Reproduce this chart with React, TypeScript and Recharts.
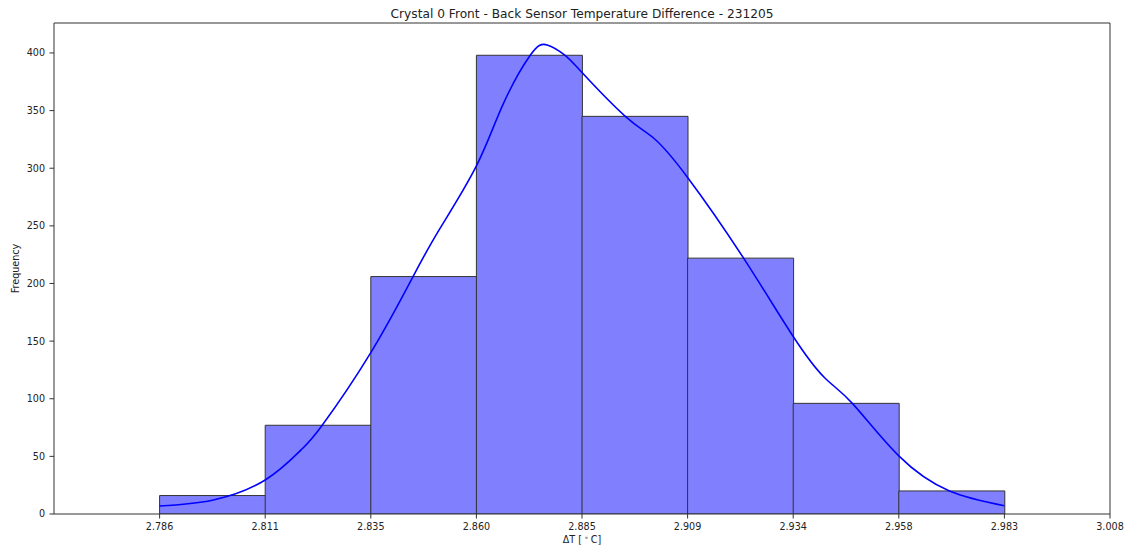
import React from 'react';
import { ComposedChart, Bar, Line, XAxis, YAxis } from 'recharts';

const binCounts = [16, 77, 206, 398, 345, 222, 96, 20];
const tickLabels = ['2.786', '2.811', '2.835', '2.860', '2.885', '2.909', '2.934', '2.958', '2.983', '3.008'];
const yTicks = [0, 50, 100, 150, 200, 250, 300, 350, 400];
// KDE curve, x in bin-edge index units (0 = 2.786, 8 = 2.983)
const kdeX = [0, 0.5, 1, 1.34, 1.54, 2, 2.4, 2.65, 3, 3.25, 3.51, 3.67, 3.84, 4, 4.41, 4.68, 5, 5.53, 6, 6.3, 6.56, 7, 7.48, 8];
const kdeY = [7, 12, 29.5, 55.6, 77, 140, 206, 247, 302, 355, 398, 407, 398, 383, 345, 326, 292, 222, 154, 118, 96, 50.4, 20, 7.2];

const binData = [
  { bin: 'b-1', count: null as number | null },
  ...binCounts.map((c, i) => ({ bin: 'b' + i, count: c as number | null })),
  { bin: 'b8', count: null as number | null },
];
const kdeData = kdeX.map((x, i) => ({ i: x, v: kdeY[i] }));

const FONT = 'DejaVu Sans, sans-serif';
const TXT = '#222';
const AX = '#333';

export default function App() {
  return (
    <div style={{ position: 'absolute', left: 0, top: 0, background: '#fff' }}>
      <ComposedChart
        width={1124}
        height={548}
        data={binData}
        margin={{ top: 0, right: 0, left: 0, bottom: 0 }}
        barCategoryGap={0}
        barGap={0}
      >
        <XAxis
          xAxisId="bins"
          dataKey="bin"
          type="category"
          orientation="top"
          height={23}
          tick={false}
          tickLine={false}
          axisLine={{ stroke: AX, strokeWidth: 1 }}
          label={{
            content: (props: any) => {
              const vb = props.viewBox || {};
              return (
                <text x={vb.x + vb.width / 2} y={18} textAnchor="middle" fontFamily={FONT} fontSize={12.2} fill={TXT}>
                  Crystal 0 Front - Back Sensor Temperature Difference - 231205
                </text>
              );
            },
          }}
        />
        <XAxis
          xAxisId="num"
          dataKey="i"
          type="number"
          domain={[-1, 9]}
          allowDataOverflow
          ticks={[0, 1, 2, 3, 4, 5, 6, 7, 8, 9]}
          tickFormatter={(v: number) => tickLabels[v] ?? ''}
          height={34}
          tickSize={4.5}
          tickMargin={4.5}
          tick={{ fontSize: 9.6, fill: TXT, fontFamily: FONT }}
          tickLine={{ stroke: AX }}
          axisLine={{ stroke: AX, strokeWidth: 1 }}
          label={{
            content: (props: any) => {
              const vb = props.viewBox || {};
              return (
                <text x={vb.x + vb.width / 2} y={543} textAnchor="middle" fontFamily={FONT} fontSize={9.6} fill={TXT}>
                  ΔT [<tspan dy={-3.5} fontSize={7}> ∘ </tspan><tspan dy={3.5}>C]</tspan>
                </text>
              );
            },
          }}
        />
        <YAxis
          yAxisId="left"
          type="number"
          domain={[0, 426]}
          allowDataOverflow
          ticks={yTicks}
          width={54}
          tickSize={4.5}
          tickMargin={4.5}
          tick={{ fontSize: 9.6, fill: TXT, fontFamily: FONT }}
          tickLine={{ stroke: AX }}
          axisLine={{ stroke: AX, strokeWidth: 1 }}
          label={{
            content: (props: any) => {
              const vb = props.viewBox || {};
              const cy = vb.y + vb.height / 2;
              return (
                <text x={19} y={cy} transform={`rotate(-90, 19, ${cy})`} textAnchor="middle" fontFamily={FONT} fontSize={9.6} fill={TXT}>
                  Frequency
                </text>
              );
            },
          }}
        />
        <YAxis
          yAxisId="right"
          orientation="right"
          type="number"
          domain={[0, 426]}
          allowDataOverflow
          ticks={yTicks}
          width={14}
          tick={false}
          tickLine={false}
          axisLine={{ stroke: AX, strokeWidth: 1 }}
        />
        <Bar
          xAxisId="bins"
          yAxisId="left"
          dataKey="count"
          fill="#8080ff"
          stroke="#333"
          strokeWidth={1}
          isAnimationActive={false}
        />
        <Line
          xAxisId="num"
          yAxisId="right"
          data={kdeData}
          dataKey="v"
          type="natural"
          stroke="#0000ff"
          strokeWidth={1.6}
          dot={false}
          activeDot={false}
          isAnimationActive={false}
        />
      </ComposedChart>
    </div>
  );
}
